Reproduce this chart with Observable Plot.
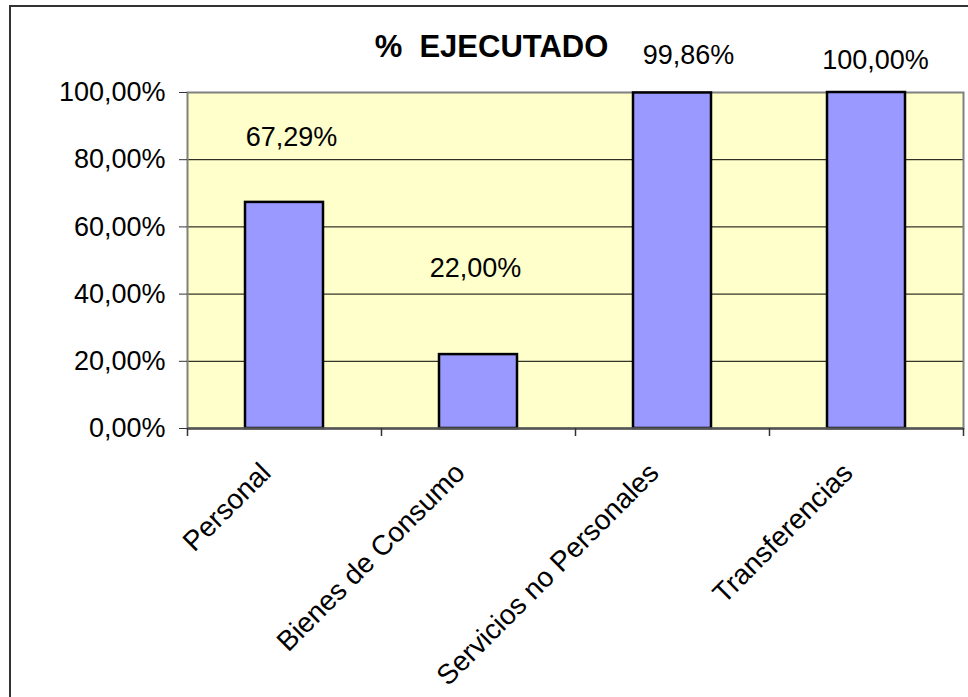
<!DOCTYPE html>
<html>
<head>
<meta charset="utf-8">
<script src="https://cdn.jsdelivr.net/npm/d3@7"></script>
<script src="https://cdn.jsdelivr.net/npm/@observablehq/plot@0.6"></script>
<style>
  html, body { margin: 0; padding: 0; background: #fff; }
  #wrap { position: relative; width: 968px; height: 697px; overflow: hidden; }
  #border { position: absolute; left: 9px; top: 5px; width: 2000px; height: 2000px; border: 2px solid #333; box-sizing: border-box; pointer-events: none; }
  #chart { position: absolute; left: 0; top: 0; }
</style>
</head>
<body>
<div id="wrap"><div id="chart"></div><div id="border"></div></div>
<script>
const title = "%  EJECUTADO";
const categories = ["Personal", "Bienes de Consumo", "Servicios no Personales", "Transferencias"];
const values = [0.6729, 0.22, 0.9986, 1.0];
const valueLabels = ["67,29%", "22,00%", "99,86%", "100,00%"];
const yTicks = [0, 0.2, 0.4, 0.6, 0.8, 1.0];
const yTickLabels = ["0,00%", "20,00%", "40,00%", "60,00%", "80,00%", "100,00%"];

const W = 968, H = 697;
const mL = 187, mR = 5, mT = 92, mB = 269;
const step = (W - mL - mR) / categories.length;
const plotH = H - mT - mB;

const data = categories.map((c, i) => ({cat: c, value: values[i], label: valueLabels[i]}));
// label placement (Excel labels were hand-moved)
const labelY = [0.866, 0.476, 1.11, 1.095];
const labelDx = [7, -3, 16, 9];

const font = "Liberation Sans, Arial, sans-serif";
const fs = 27;

const labelMarks = data.map((d, i) =>
  Plot.text([{...d, ly: labelY[i]}], {x: "cat", y: "ly", text: "label", dx: labelDx[i], fontSize: fs, fill: "#000"})
);

const plot = Plot.plot({
  width: W,
  height: H,
  marginLeft: mL,
  marginRight: mR,
  marginTop: mT,
  marginBottom: mB,
  style: {fontFamily: font, fontSize: fs + "px", color: "#000", background: "transparent", overflow: "visible"},
  x: {type: "band", domain: categories, paddingInner: 0.6, paddingOuter: 0.3, axis: null},
  y: {domain: [0, 1], axis: null},
  marks: [
    Plot.frame({fill: "#FFFFCC", stroke: null}),
    Plot.ruleY([0.2, 0.4, 0.6, 0.8], {stroke: "#000", strokeWidth: 1}),
    Plot.frame({fill: "none", stroke: "#808080", strokeWidth: 2}),
    Plot.barY(data, {x: "cat", y: "value", fill: "#9999FF", stroke: "#000", strokeWidth: 2.5}),
    Plot.ruleY([0], {stroke: "#555", strokeWidth: 2.5}),
    // y axis ticks & labels
    Plot.axisY({ticks: yTicks, tickFormat: (d) => yTickLabels[yTicks.indexOf(d)], tickSize: 8, tickPadding: 14, fontSize: fs, stroke: "#333", color: "#000"}),
    // category boundary ticks
    Plot.ruleX(categories, {x: (d) => d, dx: -step / 2, y1: 0, y2: -8 / plotH, stroke: "#333", strokeWidth: 1.5}),
    Plot.ruleX([categories[categories.length - 1]], {x: (d) => d, dx: step / 2, y1: 0, y2: -8 / plotH, stroke: "#333", strokeWidth: 1.5}),
    // category labels
    Plot.text(categories, {x: (d) => d, frameAnchor: "bottom", text: (d) => d, dx: -12, dy: 46, rotate: -45, textAnchor: "end", lineAnchor: "bottom", fontSize: 28, fill: "#000"}),
    // value labels
    ...labelMarks,
    // title
    Plot.text([title], {frameAnchor: "top", text: (d) => d, dx: 491 - (mL + (W - mL - mR) / 2), dy: 56 - mT, lineAnchor: "bottom", fontSize: 31, fontWeight: "bold", fill: "#000"})
  ]
});
document.getElementById("chart").appendChild(plot);
</script>
</body>
</html>
